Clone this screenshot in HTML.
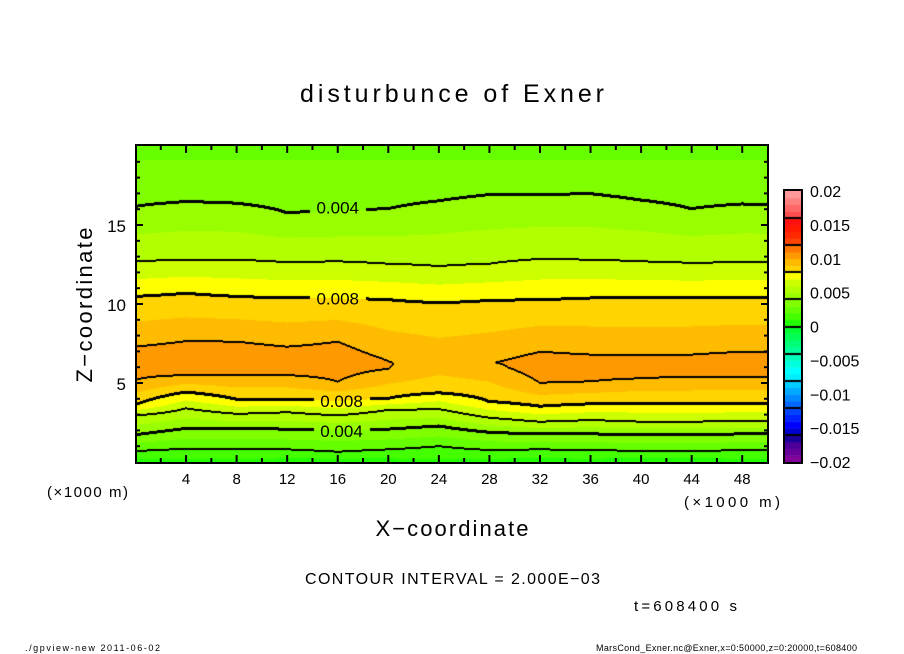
<!DOCTYPE html>
<html><head><meta charset="utf-8"><style>
html,body{margin:0;padding:0;background:#fff;width:904px;height:654px;overflow:hidden}
#wrap{position:relative;width:904px;height:654px}
canvas{position:absolute}
svg{position:absolute;left:0;top:0}
text{font-family:"Liberation Sans",sans-serif;fill:#000}
</style></head><body><div id="wrap">
<canvas id="fill" width="632" height="318" style="left:136px;top:145px"></canvas>
<canvas id="lines" width="632" height="318" style="left:136px;top:145px"></canvas>
<canvas id="cbar" width="16" height="271" style="left:785px;top:191px"></canvas>
<svg id="ov" width="904" height="654">
<text x="452" y="102" font-size="25" text-anchor="middle" textLength="304" lengthAdjust="spacing">disturbunce of Exner</text>
<text x="452" y="536" font-size="22" text-anchor="middle" textLength="153" lengthAdjust="spacing">X−coordinate</text>
<text x="0" y="0" font-size="22" text-anchor="middle" textLength="155" lengthAdjust="spacing" transform="translate(92,305) rotate(-90)">Z−coordinate</text>
<text x="47" y="497" font-size="15" textLength="81" lengthAdjust="spacing">(×1000 m)</text>
<text x="684" y="507" font-size="15" textLength="96" lengthAdjust="spacing">(×1000 m)</text>
<text x="305" y="584" font-size="16" textLength="295" lengthAdjust="spacing">CONTOUR INTERVAL = 2.000E−03</text>
<text x="634" y="611" font-size="15" textLength="103" lengthAdjust="spacing">t=608400 s</text>
<text x="25" y="651" font-size="9" textLength="135" lengthAdjust="spacing">./gpview-new  2011-06-02</text>
<text x="596" y="651" font-size="9" textLength="261" lengthAdjust="spacing">MarsCond_Exner.nc@Exner,x=0:50000,z=0:20000,t=608400</text>
<g id="ticks"></g>
<g id="clabels"></g>
<rect x="136" y="145" width="632" height="318" fill="none" stroke="#000" stroke-width="2"/>
<rect x="784" y="190" width="18" height="273" fill="none" stroke="#000" stroke-width="2"/>
</svg>
</div>
<script>
// ---- data (contour heights in km) ----
const colX   = [0,4,8,12,16,20,24,28,32,36,40,44,48,50];
const ground = [0.0006,0.0007,0.0007,0.0006,0.0005,0.0006,0.0008,0.0006,0.0006,0.0006,0.0005,0.0005,0.0006,0.0006];
const lo2 = [0.7,0.85,0.85,0.8,0.65,0.8,1.0,0.76,0.8,0.76,0.7,0.7,0.75,0.75];
const lo4 = [1.7,2.1,2.1,2.05,2.0,2.05,2.25,1.85,1.75,1.75,1.7,1.7,1.75,1.75];
const lo6 = [2.95,3.4,3.05,3.15,2.95,3.3,3.35,2.8,2.55,2.65,2.55,2.55,2.6,2.6];
const lo8 = [3.6,4.4,3.95,3.95,3.85,4.0,4.35,3.8,3.5,3.65,3.7,3.65,3.7,3.7];
const lo10 = [5.18,5.5,5.5,5.5,5.08,5.9,null,null,5.0,5.1,5.3,5.4,5.4,5.4];
const hi10 = [7.3,7.65,7.62,7.3,7.62,6.4,null,null,6.98,6.8,6.8,6.8,6.98,6.98];
const peakVal = [0.0105,0.0106,0.0106,0.0104,0.0106,0.01005,0.0097,0.00995,0.0105,0.0105,0.0105,0.0105,0.0105,0.0105];
const up8 = [10.45,10.65,10.45,10.35,10.35,10.25,10.05,10.2,10.25,10.35,10.35,10.35,10.4,10.4];
const up6 = [12.7,12.8,12.8,12.65,12.7,12.55,12.4,12.55,12.85,12.8,12.7,12.6,12.65,12.65];
const up4 = [16.15,16.45,16.35,15.75,15.85,16.0,16.5,16.9,16.9,16.95,16.55,16.0,16.3,16.25];
const up3 = [19.1,19.1,19.1,19.1,19.1,19.1,19.1,19.1,19.1,19.1,19.1,19.1,19.1,19.1];
const topVal = [0.0027,0.0027,0.0027,0.0027,0.0027,0.0027,0.0027,0.0027,0.0027,0.0027,0.0027,0.0027,0.0027,0.0027];
const xTicks = [4,8,12,16,20,24,28,32,36,40,44,48];
const zTicks = [5,10,15];
const cbTicks = [0.02,0.015,0.01,0.005,0,-0.005,-0.01,-0.015,-0.02];
const cbLabels = ["0.02","0.015","0.01","0.005","0","−0.005","−0.01","−0.015","−0.02"];
const contourLabels = [["0.004",16.1,16],["0.008",10.35,16],["0.008",3.85,16.3],["0.004",1.95,16.3]];
// colours for 0.001 bins from -0.020 up to 0.020
const palette = ["#800099","#660099","#4c0099","#1a0099","#0000cc","#0000ff","#0022ff","#0044ff",
"#0066ff","#0088ff","#00aaff","#00ccff","#00eeff","#00ffff","#00ffdd","#00ffbb",
"#00ff99","#00ff77","#00ff55","#00ff33","#22ff00","#44ff00","#66ff00","#80ff00",
"#99ff00","#b2ff00","#ccff00","#ffff00","#ffd400","#ffbb00","#ff9900","#ff7700",
"#ff4400","#ff2a00","#ff1a00","#ff1111","#ff4c4c","#ff6666","#ff8080","#ff9999"];

// ---- axes ----
const X0=135.5, XS=12.64, Z0=462, ZS=15.8;
const xp = x => X0 + x*XS;
const zp = z => Z0 - z*ZS;

function profile(c, z){
  const n=[[0,ground[c]],[lo2[c],.002],[lo4[c],.004],[lo6[c],.006],[lo8[c],.008]];
  let pk=6.3;
  if(lo10[c]!=null){ n.push([lo10[c],.010]); pk=(lo10[c]+hi10[c])/2; }
  n.push([pk,peakVal[c]]);
  if(hi10[c]!=null) n.push([hi10[c],.010]);
  n.push([up8[c],.008],[up6[c],.006],[up4[c],.004],[up3[c],.003],[20,topVal[c]]);
  for(let i=0;i<n.length-1;i++){
    if(z<=n[i+1][0]){ const t=(z-n[i][0])/(n[i+1][0]-n[i][0]); return n[i][1]+t*(n[i+1][1]-n[i][1]); }
  }
  return n[n.length-1][1];
}
function value(x,z){
  let c=0; while(c<colX.length-2 && x>colX[c+1]) c++;
  const t=(x-colX[c])/(colX[c+1]-colX[c]);
  return profile(c,z)*(1-t)+profile(c+1,z)*t;
}
function rgb(h){return [parseInt(h.slice(1,3),16),parseInt(h.slice(3,5),16),parseInt(h.slice(5,7),16)];}
const pal = palette.map(rgb);

const W=632,H=318;
const vals=new Float64Array(W*H);
for(let j=0;j<H;j++)for(let i=0;i<W;i++){
  const x=(136+i+0.5-X0)/XS, z=(Z0-(145+j+0.5))/ZS;
  vals[j*W+i]=value(Math.max(0,Math.min(50,x)),Math.max(0,Math.min(20,z)));
}
const fctx=document.getElementById('fill').getContext('2d');
const img=fctx.createImageData(W,H);
for(let k=0;k<W*H;k++){
  let b=Math.floor(vals[k]*1000+20); b=Math.max(0,Math.min(39,b));
  const c=pal[b]; img.data[k*4]=c[0];img.data[k*4+1]=c[1];img.data[k*4+2]=c[2];img.data[k*4+3]=255;
}
fctx.putImageData(img,0,0);

// contour lines every 0.002, thick at 0.004 multiples
const lctx=document.getElementById('lines').getContext('2d');
const limg=lctx.createImageData(W,H);
const lev=k=>Math.floor(vals[k]/0.002+1e-9);
function mark(i,j){ if(i<0||j<0||i>=W||j>=H)return; const k=(j*W+i)*4; limg.data[k+3]=255; }
for(let j=0;j<H;j++)for(let i=0;i<W;i++){
  const k=j*W+i, a=lev(k);
  const nb=[]; if(i<W-1)nb.push([k+1,i+1,j]); if(j<H-1)nb.push([k+W,i,j+1]);
  for(const [m,mi,mj] of nb){ const b=lev(m); if(a!==b){ const L=Math.max(a,b); if(L<1)continue;
    if(L%2===0){ for(let di=-1;di<=1;di++)for(let dj=-1;dj<=1;dj++) if(Math.abs(di)+Math.abs(dj)<2) mark(i+di,j+dj); mark(mi,mj); }
    else { mark(i,j); mark(mi,mj); } } }
}
lctx.putImageData(limg,0,0);

// contour labels
const cl=document.getElementById('clabels');
const NS='http://www.w3.org/2000/svg';
contourLabels.forEach(([txt,z,x])=>{
  const px=xp(x), py=zp(z);
  lctx.clearRect(px-28-136,py-10-145,56,20);
  const t=document.createElementNS(NS,'text');
  t.setAttribute('x',px); t.setAttribute('y',py+6); t.setAttribute('font-size','17');
  t.setAttribute('text-anchor','middle'); t.textContent=txt;
  
  
  cl.appendChild(t);
});

// colorbar
const cctx=document.getElementById('cbar').getContext('2d');
const bh=271/40;
palette.forEach((c,i)=>{ cctx.fillStyle=c; cctx.fillRect(0,271-(i+1)*bh,16,bh+0.5); });
cctx.fillStyle='#000';
for(let i=4;i<40;i+=4) cctx.fillRect(0,Math.round(271-i*bh)-1,16,2);

// ticks and labels
const g=document.getElementById('ticks');
function line(x1,y1,x2,y2,w,name){
  const l=document.createElementNS(NS,'line');
  l.setAttribute('x1',x1);l.setAttribute('y1',y1);l.setAttribute('x2',x2);l.setAttribute('y2',y2);
  l.setAttribute('stroke','#000');l.setAttribute('stroke-width',w);
  
  
  g.appendChild(l);
}
function label(x,y,s,txt,anchor,name){
  const t=document.createElementNS(NS,'text');
  t.setAttribute('x',x);t.setAttribute('y',y);t.setAttribute('font-size',s);t.setAttribute('text-anchor',anchor);
  t.textContent=txt;
  
  
  g.appendChild(t);
}
for(let x=2;x<50;x+=2){
  const major=x%4===0, L=major?8:5, px=xp(x);
  line(px,463,px,463-L,2,'x-tick'); line(px,145,px,145+L,2,'x-tick');
}
for(let z=1;z<20;z++){
  const major=z%5===0, L=major?7:4, py=zp(z);
  line(136,py,136+L,py,2,'z-tick'); line(768,py,768-L,py,2,'z-tick');
}
xTicks.forEach(x=>label(xp(x),484,15,String(x),'middle','x-tick-label'));
zTicks.forEach(z=>label(126,zp(z)+7,17,String(z),'end','z-tick-label'));
cbTicks.forEach((v,i)=>label(810,191+(0.02-v)/0.04*271+6,16,cbLabels[i],'start','colorbar-tick-label'));
</script></body></html>
